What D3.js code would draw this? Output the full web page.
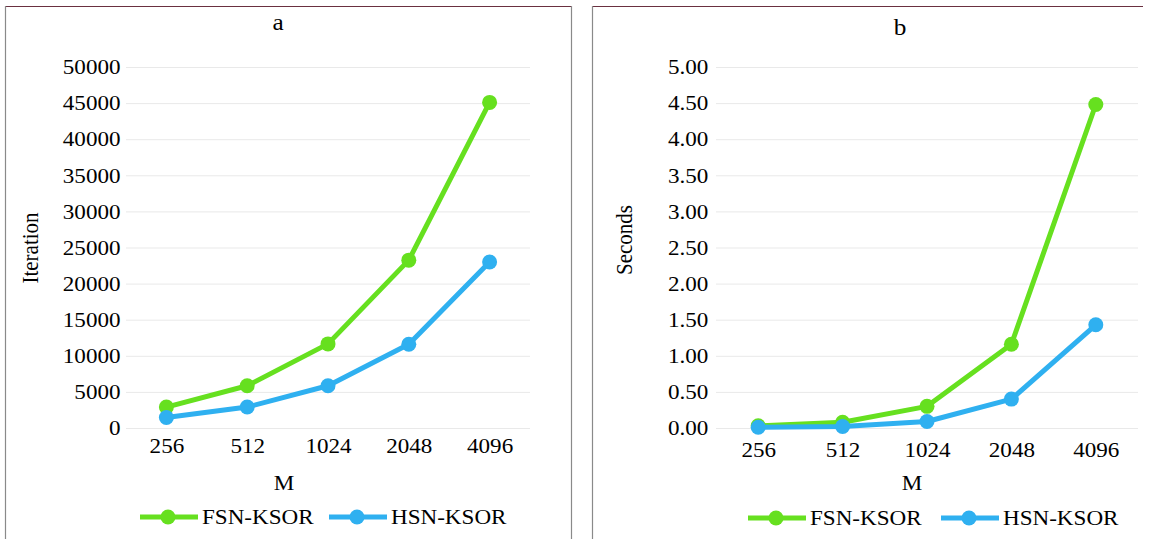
<!DOCTYPE html>
<html>
<head>
<meta charset="utf-8">
<script src="https://cdn.jsdelivr.net/npm/d3@7"></script>
<style>
  body { margin: 0; background: #fff; }
  text { font-family: "Liberation Serif", "Times New Roman", serif; fill: #000; }
</style>
</head>
<body>
<script>
// data
var sizes = ["256", "512", "1024", "2048", "4096"];
var iterFSN = [2900, 5850, 11650, 23250, 45100];
var iterHSN = [1450, 2900, 5850, 11600, 23000];
var timeFSN = [0.03, 0.08, 0.30, 1.16, 4.48];
var timeHSN = [0.01, 0.02, 0.09, 0.40, 1.43];
var iterTicks = [0, 5000, 10000, 15000, 20000, 25000, 30000, 35000, 40000, 45000, 50000];
var timeTicks = [0, 0.5, 1, 1.5, 2, 2.5, 3, 3.5, 4, 4.5, 5];
var seriesNames = ["FSN-KSOR", "HSN-KSOR"];
var colors = ["#66e01f", "#2fb0f0"];

var W = 1153, H = 539;
var SX = "scale(1.1,1)"; // glyphs in the picture are a bit wide

var svg = d3.select("body").append("svg")
    .attr("width", W)
    .attr("height", H);

function panel(o) {
    var g = svg.append("g");

    // frame: maroon top, grey sides
    g.append("line")
        .attr("x1", o.frame[0]).attr("x2", o.frame[1])
        .attr("y1", 6.5).attr("y2", 6.5)
        .attr("stroke", "#6a3040").attr("stroke-width", 1.2);
    g.append("line")
        .attr("x1", o.frame[0]).attr("x2", o.frame[0])
        .attr("y1", 6).attr("y2", H)
        .attr("stroke", "#8a8a8a").attr("stroke-width", 1.2);
    if (o.rightSide) {
        g.append("line")
            .attr("x1", o.frame[1]).attr("x2", o.frame[1])
            .attr("y1", 6).attr("y2", H)
            .attr("stroke", "#8a8a8a").attr("stroke-width", 1.2);
    }

    var x = d3.scalePoint().domain(sizes).range(o.xr).padding(0.5);
    var y = d3.scaleLinear().domain([0, o.ymax]).range([428, 67]);

    // y axis + gridlines
    var ya = g.append("g")
        .attr("transform", "translate(" + o.xr[0] + ",0)")
        .call(d3.axisLeft(y).tickValues(o.ticks).tickFormat(o.fmt)
            .tickSize(-(o.xr[1] - o.xr[0])).tickPadding(o.ypad));
    ya.select(".domain").remove();
    ya.selectAll(".tick line").attr("stroke", "#e9e9e9").attr("stroke-width", 1);
    ya.selectAll(".tick text")
        .attr("font-size", 21)
        .attr("font-family", "Liberation Serif")
        .attr("fill", "#000")
        .attr("transform", SX);

    // x axis
    var xa = g.append("g")
        .attr("transform", "translate(0,428)")
        .call(d3.axisBottom(x).tickSize(0).tickPadding(o.xpad));
    xa.select(".domain").remove();
    xa.selectAll(".tick text")
        .attr("font-size", 21)
        .attr("font-family", "Liberation Serif")
        .attr("fill", "#000")
        .attr("transform", SX);

    // titles
    g.append("text")
        .attr("transform", "translate(" + o.title[0] + "," + o.title[1] + ") " + SX)
        .attr("text-anchor", "middle").attr("font-size", 23)
        .text(o.name);
    g.append("text")
        .attr("transform", "translate(" + o.mpos[0] + ",490) " + SX)
        .attr("text-anchor", "middle").attr("font-size", 21)
        .text("M");
    g.append("text")
        .attr("transform", "translate(" + o.ylab[0] + "," + o.ylab[1] + ") rotate(-90) scale(1,1.1)")
        .attr("text-anchor", "middle").attr("font-size", 21)
        .text(o.ytitle);

    // lines and markers
    var line = d3.line()
        .x(function(d, i){ return x(sizes[i]); })
        .y(function(d){ return y(d); });

    o.series.forEach(function(vals, s){
        g.append("path")
            .datum(vals)
            .attr("d", line)
            .attr("fill", "none")
            .attr("stroke", colors[s])
            .attr("stroke-width", 5)
            .attr("stroke-linejoin", "round");
        g.selectAll(".dot" + s)
            .data(vals)
            .enter()
            .append("circle")
            .attr("class", "dot" + s)
            .attr("cx", function(d, i){ return x(sizes[i]); })
            .attr("cy", function(d){ return y(d); })
            .attr("r", 7.5)
            .attr("fill", colors[s]);
    });

    // legend
    o.legend.forEach(function(lx, s){
        var lg = g.append("g").attr("transform", "translate(" + lx + "," + o.legY + ")");
        lg.append("line")
            .attr("x1", 0).attr("x2", 58)
            .attr("stroke", colors[s]).attr("stroke-width", 5);
        lg.append("circle")
            .attr("cx", 28).attr("r", 7.5).attr("fill", colors[s]);
        lg.append("text")
            .attr("transform", "translate(62,7) " + SX)
            .attr("font-size", 21)
            .text(seriesNames[s]);
    });
}

panel({
    name: "a", frame: [5.5, 571.5], rightSide: true,
    xr: [126, 530], ymax: 50000, ticks: iterTicks, fmt: d3.format("d"),
    ypad: 5, xpad: 10, title: [278, 30], mpos: [284], ylab: [38, 248],
    ytitle: "Iteration", series: [iterFSN, iterHSN],
    legend: [140, 329], legY: 517
});

panel({
    name: "b", frame: [592.5, 1143], rightSide: false,
    xr: [716, 1138], ymax: 5, ticks: timeTicks, fmt: d3.format(".2f"),
    ypad: 7, xpad: 14, title: [900, 35], mpos: [912], ylab: [632, 240],
    ytitle: "Seconds", series: [timeFSN, timeHSN],
    legend: [748, 941], legY: 518
});
</script>
</body>
</html>
